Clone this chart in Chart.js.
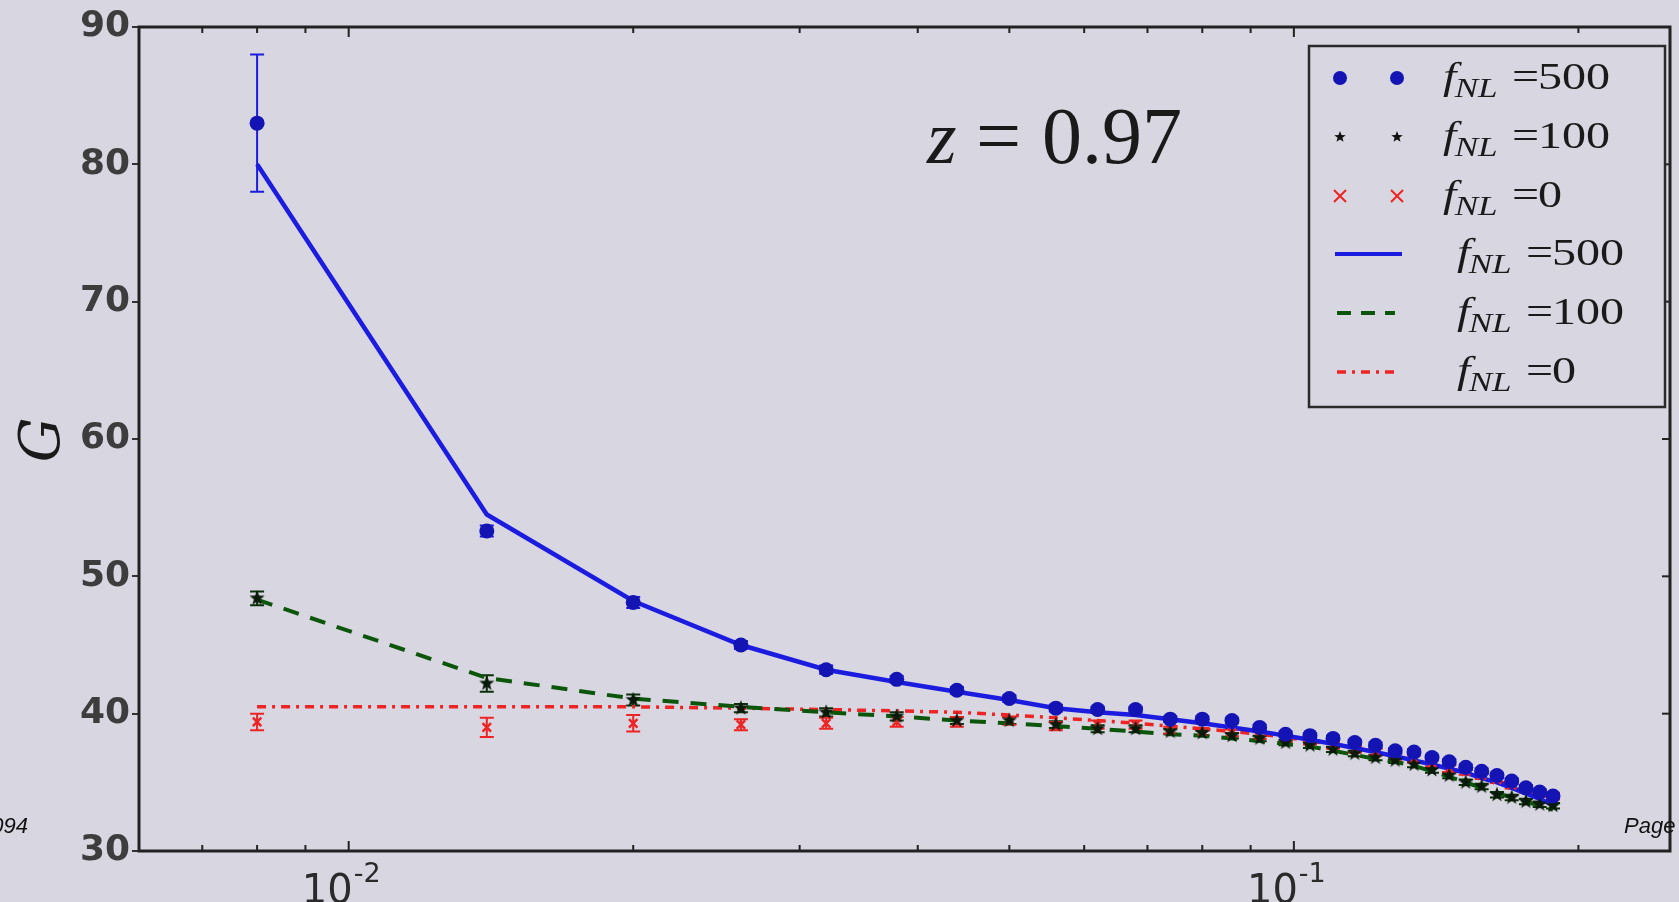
<!DOCTYPE html>
<html>
<head>
<meta charset="utf-8">
<script src="https://cdn.jsdelivr.net/npm/chart.js@4.4.1/dist/chart.umd.min.js"></script>
<style>
  html, body { margin: 0; padding: 0; background: #d8d6e0; overflow: hidden; }
</style>
</head>
<body>
<canvas id="myChart" width="1679" height="902"></canvas>
<script>
// k bins (x axis, log)
const kBins = [0.008, 0.014, 0.020, 0.026, 0.032, 0.038, 0.044, 0.050, 0.056, 0.062, 0.068,
               0.074, 0.080, 0.086, 0.092, 0.098, 0.104, 0.110, 0.116, 0.122, 0.128, 0.134,
               0.140, 0.146, 0.152, 0.158, 0.164, 0.170, 0.176, 0.182, 0.188];

// theory curves
const theory500 = [80.0, 54.5, 48.2, 45.0, 43.2, 42.3, 41.6, 41.0, 40.4, 40.1, 39.9,
                   39.6, 39.3, 39.0, 38.7, 38.4, 38.1, 37.8, 37.5, 37.2, 36.9, 36.6,
                   36.3, 36.0, 35.7, 35.3, 35.0, 34.6, 34.2, 33.8, 33.35];
const theory100 = [48.3, 42.6, 41.1, 40.5, 40.1, 39.8, 39.5, 39.3, 39.1, 38.9, 38.7,
                   38.5, 38.4, 38.2, 38.0, 37.8, 37.6, 37.3, 37.0, 36.7, 36.5, 36.2,
                   35.8, 35.4, 35.0, 34.6, 34.2, 33.9, 33.6, 33.3, 33.0];
const theory0 = [40.5, 40.5, 40.5, 40.4, 40.3, 40.2, 40.1, 39.9, 39.7, 39.5, 39.3,
                 39.1, 38.9, 38.7, 38.5, 38.3, 38.0, 37.8, 37.5, 37.2, 36.9, 36.6,
                 36.3, 36.0, 35.7, 35.4, 35.1, 34.8, 34.5, 34.2, 33.9];

// measured points
const data500 = [83.0, 53.3, 48.1, 45.0, 43.2, 42.5, 41.7, 41.1, 40.4, 40.3, 40.3,
                 39.6, 39.6, 39.5, 39.0, 38.5, 38.4, 38.2, 37.9, 37.7, 37.3, 37.2,
                 36.8, 36.5, 36.1, 35.8, 35.5, 35.1, 34.6, 34.3, 34.0];
const err500 = [5.0, 0.4, 0.4, 0.3, 0.3, 0.25, 0.25, 0.25, 0.25, 0.2, 0.2,
                0.2, 0.2, 0.2, 0.2, 0.2, 0.2, 0.2, 0.2, 0.2, 0.2, 0.2,
                0.2, 0.2, 0.2, 0.2, 0.2, 0.2, 0.2, 0.2, 0.2];
const data100 = [48.4, 42.2, 41.0, 40.4, 40.1, 39.8, 39.5, 39.5, 39.2, 38.9, 38.9,
                 38.7, 38.6, 38.4, 38.2, 37.9, 37.7, 37.4, 37.1, 36.8, 36.6, 36.3,
                 35.9, 35.5, 35.0, 34.7, 34.1, 33.9, 33.6, 33.4, 33.3];
const err100 = [0.5, 0.6, 0.4, 0.3, 0.3, 0.3, 0.25, 0.25, 0.25, 0.25, 0.25,
                0.2, 0.2, 0.2, 0.2, 0.2, 0.2, 0.2, 0.2, 0.2, 0.2, 0.2,
                0.2, 0.2, 0.2, 0.2, 0.2, 0.2, 0.2, 0.2, 0.2];
const data0 = [39.4, 39.0, 39.3, 39.2, 39.3, 39.4, 39.4, 39.5, 39.1, 39.2, 39.2,
               38.8, 38.7, 38.6, 38.4, 38.2, 38.0, 37.7, 37.4, 37.2, 36.9, 36.7,
               36.4, 36.0, 35.8, 35.5, 35.2, 34.8, 34.5, 34.2, 34.0];
const err0 = [0.6, 0.7, 0.6, 0.4, 0.4, 0.35, 0.35, 0.3, 0.3, 0.3, 0.3,
              0.25, 0.25, 0.25, 0.25, 0.25, 0.25, 0.25, 0.25, 0.25, 0.25, 0.25,
              0.25, 0.25, 0.25, 0.25, 0.25, 0.25, 0.25, 0.25, 0.25];

const yTicks = [30, 40, 50, 60, 70, 80, 90];
const xTickValues = [0.01, 0.1];
const xTickExps = ['-2', '-1'];
const legendValues = ['500', '100', '0', '500', '100', '0'];
const zLabel = '0.97';

const BG = '#d8d6e0';
const BLUE = '#1c1ce0';
const BLUE_DOT = '#1414b4';
const GREEN = '#0b560b';
const RED = '#ee2424';

const pts = (arr) => kBins.map((k, i) => ({ x: k, y: arr[i] }));

// filled star marker like matplotlib '*'
function makeStar(r, color) {
    const c = document.createElement('canvas');
    c.width = c.height = r * 2 + 2;
    const g = c.getContext('2d');
    g.fillStyle = color;
    g.beginPath();
    for (let i = 0; i < 10; i++) {
        const rad = i % 2 === 0 ? r : r * 0.42;
        const a = -Math.PI / 2 + i * Math.PI / 5;
        g.lineTo(r + 1 + rad * Math.cos(a), r + 1 + rad * Math.sin(a));
    }
    g.closePath();
    g.fill();
    return c;
}
const starImg = makeStar(8, '#0a1a0a');

function drawFnl(ctx, x, y, val, stretch) {
    ctx.save();
    ctx.translate(x, y);
    ctx.scale(stretch, 1);
    ctx.fillStyle = '#1a1a1a';
    ctx.textAlign = 'left';
    ctx.textBaseline = 'alphabetic';
    ctx.font = 'italic 37px "Liberation Serif"';
    ctx.fillText('f', 0, 0);
    ctx.font = 'italic 27px "Liberation Serif"';
    ctx.fillText('NL', 9, 8);
    ctx.font = '37px "Liberation Serif"';
    ctx.fillText('=', 53, 0);
    ctx.fillText(val, 73, 0);
    ctx.restore();
}

const errorBars = {
    id: 'errorBars',
    beforeDatasetsDraw(chart) {
        const { ctx, scales: { x, y } } = chart;
        const sets = [[data500, err500, BLUE], [data100, err100, '#0a300a'], [data0, err0, RED]];
        ctx.save();
        ctx.lineWidth = 2;
        sets.forEach(([vals, errs, col]) => {
            ctx.strokeStyle = col;
            vals.forEach((v, i) => {
                const px = x.getPixelForValue(kBins[i]);
                const y1 = y.getPixelForValue(v - errs[i]);
                const y2 = y.getPixelForValue(v + errs[i]);
                ctx.beginPath();
                ctx.moveTo(px, y1); ctx.lineTo(px, y2);
                ctx.moveTo(px - 7, y1); ctx.lineTo(px + 7, y1);
                ctx.moveTo(px - 7, y2); ctx.lineTo(px + 7, y2);
                ctx.stroke();
            });
        });
        ctx.restore();
    }
};

const frame = {
    id: 'frame',
    beforeDraw(chart) {
        const ctx = chart.ctx;
        ctx.save();
        ctx.fillStyle = BG;
        ctx.fillRect(0, 0, chart.width, chart.height);
        ctx.restore();
    },
    afterDraw(chart) {
        const { ctx, chartArea: a, scales: { x, y } } = chart;
        ctx.save();
        ctx.strokeStyle = '#222';
        ctx.lineWidth = 3;
        ctx.strokeRect(a.left, a.top, a.right - a.left, a.bottom - a.top);

        // inward ticks on x (bottom and top)
        ctx.lineWidth = 2;
        x.ticks.forEach(t => {
            const v = t.value;
            const m = v / Math.pow(10, Math.floor(Math.log10(v) + 1e-9));
            if (Math.abs(m - Math.round(m)) > 1e-6) return;
            const px = x.getPixelForValue(v);
            if (px <= a.left + 2 || px >= a.right - 2) return;
            const len = Math.round(m) === 1 ? 10 : 6;
            ctx.beginPath();
            ctx.moveTo(px, a.bottom); ctx.lineTo(px, a.bottom - len);
            ctx.moveTo(px, a.top); ctx.lineTo(px, a.top + len);
            ctx.stroke();
        });
        // right side ticks
        yTicks.forEach(v => {
            const py = y.getPixelForValue(v);
            ctx.beginPath();
            ctx.moveTo(a.right, py); ctx.lineTo(a.right - 8, py);
            ctx.stroke();
        });

        // x tick labels with superscript
        ctx.fillStyle = '#2a2a2a';
        xTickValues.forEach((v, i) => {
            const px = x.getPixelForValue(v);
            ctx.font = '40px "DejaVu Sans"';
            ctx.textAlign = 'right';
            ctx.textBaseline = 'alphabetic';
            ctx.fillText('10', px + 4, 903);
            ctx.font = '27px "DejaVu Sans"';
            ctx.textAlign = 'left';
            ctx.fillText(xTickExps[i], px + 5, 882);
        });

        // y axis title
        ctx.save();
        ctx.translate(44, 440);
        ctx.rotate(-Math.PI / 2);
        ctx.font = 'italic 56px "DejaVu Serif"';
        ctx.textAlign = 'center';
        ctx.textBaseline = 'middle';
        ctx.fillStyle = '#1a1a1a';
        ctx.fillText('G', 0, 0);
        ctx.restore();

        // z label
        ctx.fillStyle = '#1a1a1a';
        ctx.textAlign = 'left';
        ctx.textBaseline = 'alphabetic';
        ctx.font = 'italic 76px "Liberation Serif"';
        ctx.fillText('z', 927, 163);
        ctx.font = '80px "Liberation Serif"';
        ctx.fillText('=', 976, 163);
        ctx.fillText(zLabel, 1042, 163);

        // legend
        const lx = 1309, ly = 46, lw = 356, lh = 361;
        ctx.fillStyle = BG;
        ctx.fillRect(lx, ly, lw, lh);
        ctx.strokeStyle = '#2a2a2a';
        ctx.lineWidth = 2.5;
        ctx.strokeRect(lx, ly, lw, lh);
        const rows = [78, 137, 196, 254, 313, 372];
        const m1 = 1340, m2 = 1397;
        // circles
        ctx.fillStyle = BLUE_DOT;
        [m1, m2].forEach(mx => { ctx.beginPath(); ctx.arc(mx, rows[0], 7, 0, Math.PI * 2); ctx.fill(); });
        // stars
        [m1, m2].forEach(mx => ctx.drawImage(makeStar(6, '#111'), mx - 7, rows[1] - 7));
        // crosses
        ctx.strokeStyle = RED;
        ctx.lineWidth = 2;
        [m1, m2].forEach(mx => {
            ctx.beginPath();
            ctx.moveTo(mx - 6, rows[2] - 6); ctx.lineTo(mx + 6, rows[2] + 6);
            ctx.moveTo(mx + 6, rows[2] - 6); ctx.lineTo(mx - 6, rows[2] + 6);
            ctx.stroke();
        });
        // lines
        ctx.lineWidth = 4;
        ctx.strokeStyle = BLUE;
        ctx.setLineDash([]);
        ctx.beginPath(); ctx.moveTo(1335, rows[3]); ctx.lineTo(1402, rows[3]); ctx.stroke();
        ctx.strokeStyle = GREEN;
        ctx.setLineDash([14, 10]);
        ctx.beginPath(); ctx.moveTo(1337, rows[4]); ctx.lineTo(1395, rows[4]); ctx.stroke();
        ctx.strokeStyle = RED;
        ctx.lineWidth = 3.5;
        ctx.setLineDash([9, 6, 3, 6]);
        ctx.beginPath(); ctx.moveTo(1337, rows[5]); ctx.lineTo(1395, rows[5]); ctx.stroke();
        ctx.setLineDash([]);
        legendValues.forEach((v, i) => {
            drawFnl(ctx, i < 3 ? 1443 : 1457, rows[i] + 11, v, 1.3);
        });

        // stray slide text
        ctx.fillStyle = '#111';
        ctx.font = 'italic 22px "Liberation Sans"';
        ctx.textAlign = 'right';
        ctx.fillText('094', 28, 833);
        ctx.textAlign = 'left';
        ctx.fillText('Page', 1624, 833);
        ctx.restore();
    }
};

var canvas = document.getElementById('myChart');

var data = {
    datasets: [
        {
            label: 'fNL=500 data',
            data: pts(data500),
            showLine: false,
            pointRadius: 7.5,
            pointBackgroundColor: BLUE_DOT,
            pointBorderColor: BLUE_DOT,
            pointBorderWidth: 0
        },
        {
            label: 'fNL=100 data',
            data: pts(data100),
            showLine: false,
            pointStyle: starImg,
            pointRadius: 8
        },
        {
            label: 'fNL=0 data',
            data: pts(data0),
            showLine: false,
            pointStyle: 'crossRot',
            pointRadius: 6,
            pointBorderColor: RED,
            pointBorderWidth: 2.5
        },
        {
            label: 'fNL=500',
            data: pts(theory500),
            showLine: true,
            borderColor: BLUE,
            borderWidth: 4.5,
            pointRadius: 0
        },
        {
            label: 'fNL=100',
            data: pts(theory100),
            showLine: true,
            borderColor: GREEN,
            borderWidth: 4,
            borderDash: [16, 12],
            pointRadius: 0
        },
        {
            label: 'fNL=0',
            data: pts(theory0),
            showLine: true,
            borderColor: RED,
            borderWidth: 3.5,
            borderDash: [9, 6, 3, 6],
            pointRadius: 0
        }
    ]
};

var option = {
    responsive: false,
    animation: false,
    devicePixelRatio: 1,
    layout: { padding: { top: 27, right: 2, left: 0, bottom: 0 } },
    plugins: { legend: { display: false }, tooltip: { enabled: false } },
    scales: {
        x: {
            type: 'logarithmic',
            min: 0.006,
            max: 0.25,
            ticks: { display: false },
            grid: { display: false },
            border: { display: false },
            afterFit: (s) => { s.height = 51; }
        },
        y: {
            min: 30,
            max: 90,
            afterBuildTicks: (s) => { s.ticks = yTicks.map(v => ({ value: v })); },
            ticks: {
                font: { family: 'DejaVu Sans', weight: 'bold', size: 36 },
                color: '#3d3d3d',
                padding: 2
            },
            grid: { drawOnChartArea: false, drawTicks: true, tickLength: 7, color: '#333', lineWidth: 2 },
            border: { display: false },
            afterFit: (s) => { s.width = 139; }
        }
    }
};

new Chart(canvas, {
    type: 'scatter',
    data: data,
    options: option,
    plugins: [frame, errorBars]
});
</script>
</body>
</html>
